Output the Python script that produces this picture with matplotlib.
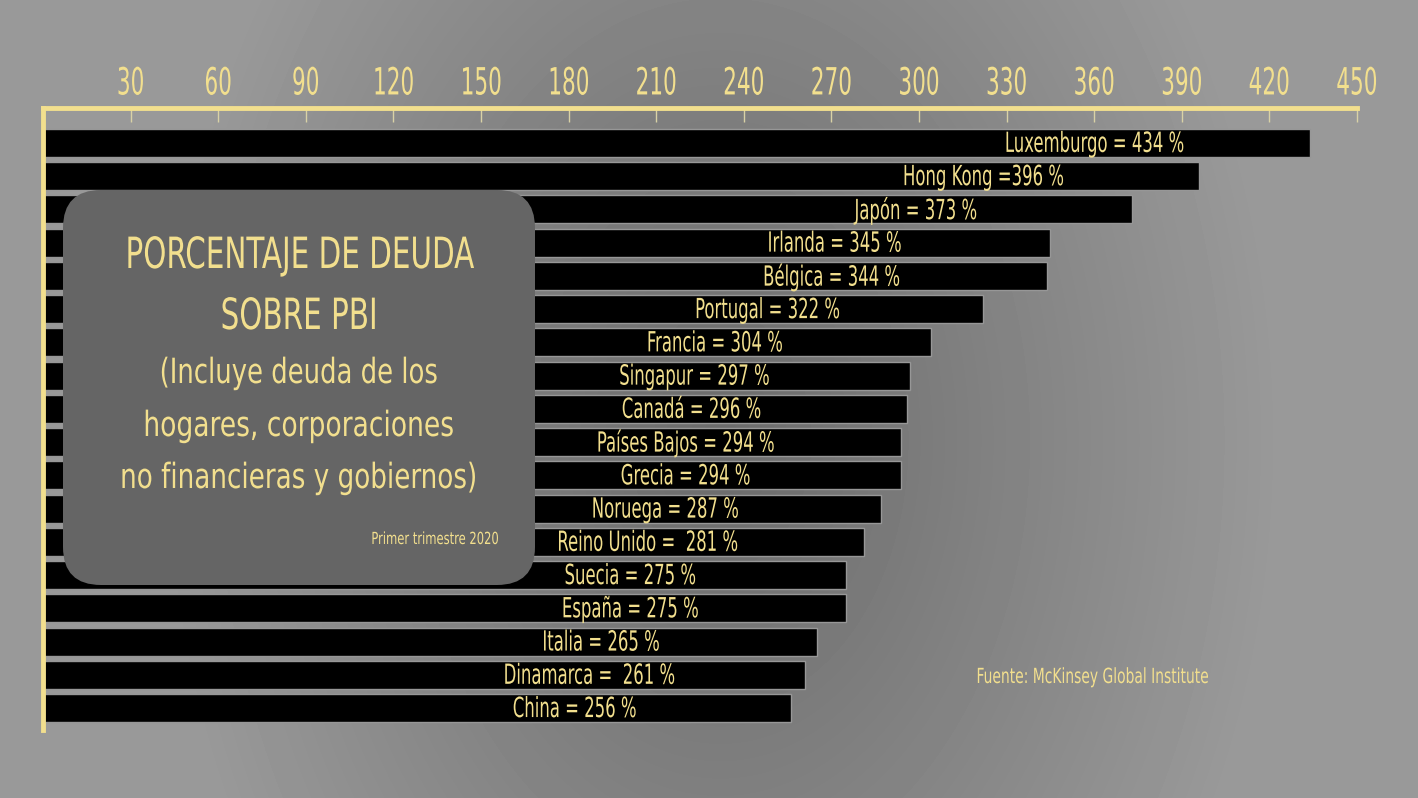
import matplotlib.pyplot as plt
import numpy as np
from matplotlib.patches import FancyBboxPatch
from matplotlib.patheffects import AbstractPathEffect
from matplotlib.transforms import Affine2D

##### Data #####
countries = ['Luxemburgo', 'Hong Kong', 'Japón', 'Irlanda', 'Bélgica', 'Portugal',
             'Francia', 'Singapur', 'Canadá', 'Países Bajos', 'Grecia', 'Noruega',
             'Reino Unido', 'Suecia', 'España', 'Italia', 'Dinamarca', 'China']
debt_pct = [434, 396, 373, 345, 344, 322, 304, 297, 296, 294, 294, 287,
            281, 275, 275, 265, 261, 256]
# labels as written on the picture (spacing kept)
bar_labels = ['Luxemburgo = 434 %', 'Hong Kong =396 %', 'Japón = 373 %', 'Irlanda = 345 %',
              'Bélgica = 344 %', 'Portugal = 322 %', 'Francia = 304 %', 'Singapur = 297 %',
              'Canadá = 296 %', 'Países Bajos = 294 %', 'Grecia = 294 %', 'Noruega = 287 %',
              'Reino Unido =  281 %', 'Suecia = 275 %', 'España = 275 %', 'Italia = 265 %',
              'Dinamarca =  261 %', 'China = 256 %']
x_ticks = [30, 60, 90, 120, 150, 180, 210, 240, 270, 300, 330, 360, 390, 420, 450]


# Narrow the glyphs horizontally (around their centre) to mimic a condensed display font
class Squeeze(AbstractPathEffect):
    def __init__(self, sx):
        super().__init__()
        self.sx = sx

    def draw_path(self, renderer, gc, tpath, affine, rgbFace=None):
        ext = tpath.get_extents()
        cx = (ext.x0 + ext.x1) / 2
        squeeze = Affine2D().scale(self.sx, 1).translate((1 - self.sx) * cx, 0)
        renderer.draw_path(gc, tpath, squeeze + affine, rgbFace)


##### Style #####
tan = '#f2df8e'
plt.rcParams['font.family'] = ['Liberation Sans Narrow', 'DejaVu Sans']
plt.rcParams['font.stretch'] = 'condensed'

W, H = 1418, 798
fig = plt.figure(figsize=(W / 100, H / 100), dpi=100)

# Background radial gradient (dark centre, lighter edges)
bg = fig.add_axes([0, 0, 1, 1], zorder=0)
yy, xx = np.mgrid[0:H, 0:W]
r = np.sqrt(((xx - 720) / 560.0) ** 2 + ((yy - 440) / 800.0) ** 2)
shade = 0.42 + 0.18 * np.clip(r, 0, 1)
bg.imshow(shade, cmap='gray', vmin=0, vmax=1, aspect='auto', extent=[0, W, H, 0])
bg.axis('off')

# Main bar axes
ax = fig.add_axes([43 / W, 1 - 730 / H, (1357 - 43) / W, (730 - 108) / H], zorder=1)
ax.patch.set_alpha(0)
pos = np.arange(len(countries))
ax.barh(pos, debt_pct, height=0.84, color='black', edgecolor='#979797', linewidth=1.0)
for i, (v, lab) in enumerate(zip(debt_pct, bar_labels)):
    ax.text(v - 74, i + 0.03, lab, ha='center', va='center', color=tan, fontsize=20,
            path_effects=[Squeeze(0.66)])

ax.set_xlim(0, 450)
ax.set_ylim(17.66, -1.05)
ax.set_xticks(x_ticks)
ax.set_yticks([])
ax.xaxis.tick_top()
ax.tick_params(axis='x', direction='in', length=10, width=1, color='#d9d2a6',
               labelcolor=tan, labelsize=27, pad=4)
for lbl in ax.get_xticklabels():
    lbl.set_path_effects([Squeeze(0.64)])
for side in ['right', 'bottom']:
    ax.spines[side].set_visible(False)
for side in ['top', 'left']:
    ax.spines[side].set_color(tan)
    ax.spines[side].set_linewidth(3.5)

# Overlay in pixel coordinates for the title box and notes
ov = fig.add_axes([0, 0, 1, 1], zorder=2)
ov.set_xlim(0, W)
ov.set_ylim(H, 0)
ov.axis('off')
ov.patch.set_alpha(0)
box = FancyBboxPatch((63, 190), 472, 395, boxstyle='round,pad=0,rounding_size=38',
                     facecolor='#656565', edgecolor='none')
ov.add_patch(box)
ov.text(299, 256, 'PORCENTAJE DE DEUDA', ha='center', va='center', color=tan, fontsize=31,
        path_effects=[Squeeze(0.76)])
ov.text(299, 317, 'SOBRE PBI', ha='center', va='center', color=tan, fontsize=31,
        path_effects=[Squeeze(0.76)])
ov.text(299, 373, '(Incluye deuda de los', ha='center', va='center', color=tan, fontsize=25,
        path_effects=[Squeeze(0.83)])
ov.text(299, 426, 'hogares, corporaciones', ha='center', va='center', color=tan, fontsize=25,
        path_effects=[Squeeze(0.85)])
ov.text(299, 478, 'no financieras y gobiernos)', ha='center', va='center', color=tan,
        fontsize=25, path_effects=[Squeeze(0.84)])
ov.text(435, 539, 'Primer trimestre 2020', ha='center', va='center', color=tan, fontsize=12,
        path_effects=[Squeeze(0.77)])
ov.text(1093, 677, 'Fuente: McKinsey Global Institute', ha='center', va='center',
        color=tan, fontsize=15, path_effects=[Squeeze(0.74)])

plt.savefig('out.png', dpi=100)
plt.close()
